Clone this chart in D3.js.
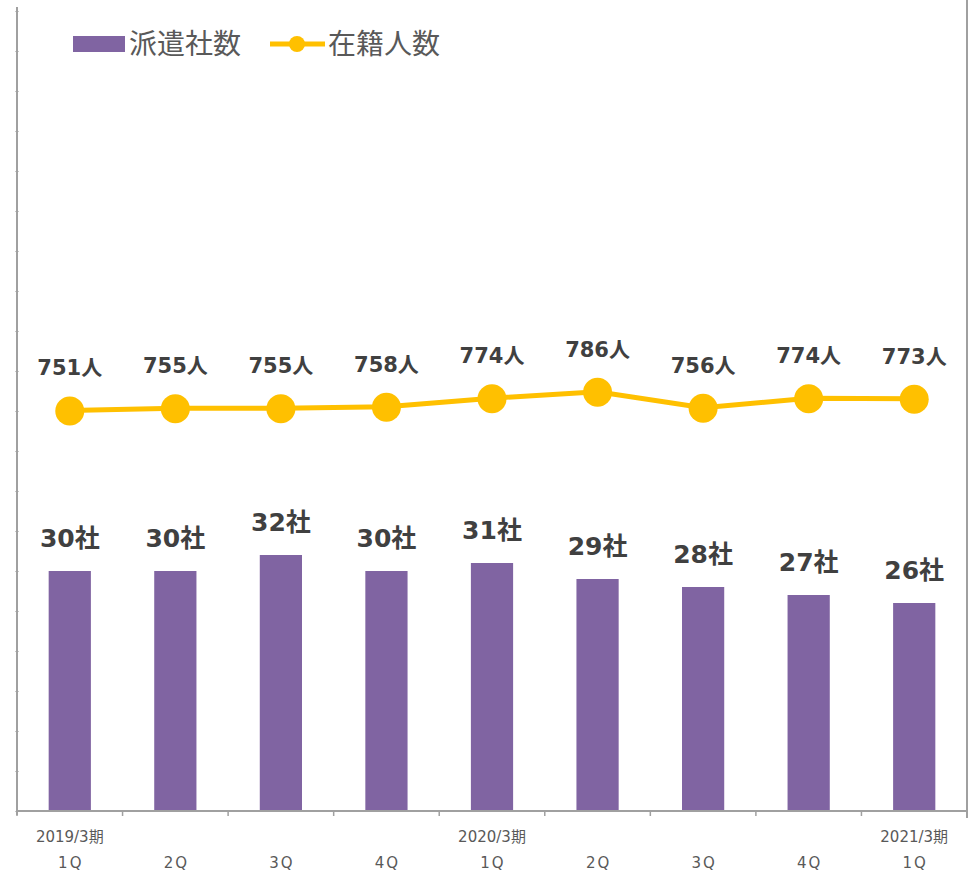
<!DOCTYPE html>
<html>
<head>
<meta charset="utf-8">
<script src="https://cdn.jsdelivr.net/npm/d3@7"></script>
<style>
  html, body { margin: 0; padding: 0; background: #fff; }
  svg { display: block; }
</style>
</head>
<body>
<div id="chart"></div>
<script>
const categories = ["1Q", "2Q", "3Q", "4Q", "1Q", "2Q", "3Q", "4Q", "1Q"];
const periodLabels = ["2019/3期", "", "", "", "2020/3期", "", "", "", "2021/3期"];
const companies = [30, 30, 32, 30, 31, 29, 28, 27, 26];
const staff = [751, 755, 755, 758, 774, 786, 756, 774, 773];
const seriesNames = ["派遣社数", "在籍人数"];

const W = 971, H = 873;
const margin = { left: 17, right: 4, top: 11, bottom: 62 };
const plotW = W - margin.left - margin.right;
const plotH = H - margin.top - margin.bottom;

const barColor = "#8064A2";
const lineColor = "#FFC000";
const labelColor = "#404040";
const axisColor = "#A0A0A0";
const font = "Verdana, 'DejaVu Sans', 'Noto Sans CJK JP', sans-serif";

const svg = d3.select("#chart").append("svg").attr("width", W).attr("height", H);
const g = svg.append("g").attr("transform", `translate(${margin.left},${margin.top})`);

const x = d3.scaleBand().domain(d3.range(categories.length)).range([0, plotW]).paddingInner(0).paddingOuter(0);
const yBar = d3.scaleLinear().domain([0, 100]).range([plotH, 0]);
const yLine = d3.scaleLinear().domain([0, 1500]).range([plotH, 0]);

// left axis with minor ticks
const leftAxis = d3.axisLeft(yBar).tickValues(d3.range(0, 101, 5)).tickSize(3).tickFormat("");
const la = g.append("g").call(leftAxis);
la.select(".domain").remove();
la.selectAll(".tick line").attr("stroke", "#C8C8C8").attr("x2", 2).attr("x1", -2);
g.append("line").attr("x1", 0).attr("x2", 0).attr("y1", -4).attr("y2", plotH + 4)
  .attr("stroke", axisColor).attr("stroke-width", 2);
// right line
g.append("line").attr("x1", plotW).attr("x2", plotW).attr("y1", -11).attr("y2", plotH + 7)
  .attr("stroke", axisColor).attr("stroke-width", 2);

// bars
g.selectAll("rect.bar").data(companies).enter().append("rect")
  .attr("class", "bar")
  .attr("x", (d, i) => x(i) + x.bandwidth() * 0.3)
  .attr("width", x.bandwidth() * 0.4)
  .attr("y", d => yBar(d))
  .attr("height", d => plotH - yBar(d))
  .attr("fill", barColor);

// bottom axis
const bottomAxis = d3.axisBottom(x).tickFormat("").tickSize(0);
const ba = g.append("g").attr("transform", `translate(0,${plotH})`).call(bottomAxis);
ba.select(".domain").remove();
g.append("line").attr("x1", 0).attr("x2", plotW).attr("y1", plotH).attr("y2", plotH)
  .attr("stroke", axisColor).attr("stroke-width", 2);
const bounds = d3.range(categories.length + 1).map(i => i === categories.length ? plotW : x(i));
g.selectAll("line.sep").data(bounds).enter().append("line")
  .attr("class", "sep")
  .attr("x1", d => d).attr("x2", d => d)
  .attr("y1", plotH).attr("y2", plotH + 5)
  .attr("stroke", axisColor).attr("stroke-width", 1.5);

g.selectAll("text.period").data(periodLabels).enter().append("text")
  .attr("class", "period")
  .attr("x", (d, i) => x(i) + x.bandwidth() / 2)
  .attr("y", plotH + 31)
  .attr("text-anchor", "middle")
  .attr("font-family", font)
  .attr("font-size", 15)
  .attr("fill", "#595959")
  .text(d => d);
g.selectAll("text.cat").data(categories).enter().append("text")
  .attr("class", "cat")
  .attr("x", (d, i) => x(i) + x.bandwidth() / 2 + 1)
  .attr("y", plotH + 57)
  .attr("text-anchor", "middle")
  .attr("font-family", font)
  .attr("font-size", 15)
  .attr("letter-spacing", 2)
  .attr("fill", "#595959")
  .text(d => d);

// bar labels
g.selectAll("text.blabel").data(companies).enter().append("text")
  .attr("class", "blabel")
  .attr("x", (d, i) => x(i) + x.bandwidth() / 2)
  .attr("y", d => yBar(d) - 24)
  .attr("text-anchor", "middle")
  .attr("font-family", font)
  .attr("font-weight", "bold")
  .attr("font-size", 25)
  .attr("fill", labelColor)
  .text(d => d + "社");

// line
const line = d3.line().x((d, i) => x(i) + x.bandwidth() / 2).y(d => yLine(d));
g.append("path").datum(staff).attr("d", line)
  .attr("fill", "none").attr("stroke", lineColor).attr("stroke-width", 5);
g.selectAll("circle.pt").data(staff).enter().append("circle")
  .attr("class", "pt")
  .attr("cx", (d, i) => x(i) + x.bandwidth() / 2)
  .attr("cy", d => yLine(d) + 0.5)
  .attr("r", 14.5)
  .attr("fill", lineColor);
g.selectAll("text.llabel").data(staff).enter().append("text")
  .attr("class", "llabel")
  .attr("x", (d, i) => x(i) + x.bandwidth() / 2)
  .attr("y", d => yLine(d) - 35)
  .attr("text-anchor", "middle")
  .attr("font-family", font)
  .attr("font-weight", "bold")
  .attr("font-size", 21)
  .attr("fill", labelColor)
  .text(d => d + "人");

// legend
const lg = svg.append("g");
lg.append("rect").attr("x", 73).attr("y", 36).attr("width", 52).attr("height", 16).attr("fill", barColor);
lg.append("text").attr("x", 129).attr("y", 54)
  .attr("font-family", "'Noto Sans CJK JP', sans-serif").attr("font-size", 28).attr("fill", "#595959")
  .text(seriesNames[0]);
lg.append("line").attr("x1", 270).attr("x2", 325).attr("y1", 44).attr("y2", 44)
  .attr("stroke", lineColor).attr("stroke-width", 5);
lg.append("circle").attr("cx", 297).attr("cy", 44).attr("r", 8).attr("fill", lineColor);
lg.append("text").attr("x", 328).attr("y", 54)
  .attr("font-family", "'Noto Sans CJK JP', sans-serif").attr("font-size", 28).attr("fill", "#595959")
  .text(seriesNames[1]);
</script>
</body>
</html>
